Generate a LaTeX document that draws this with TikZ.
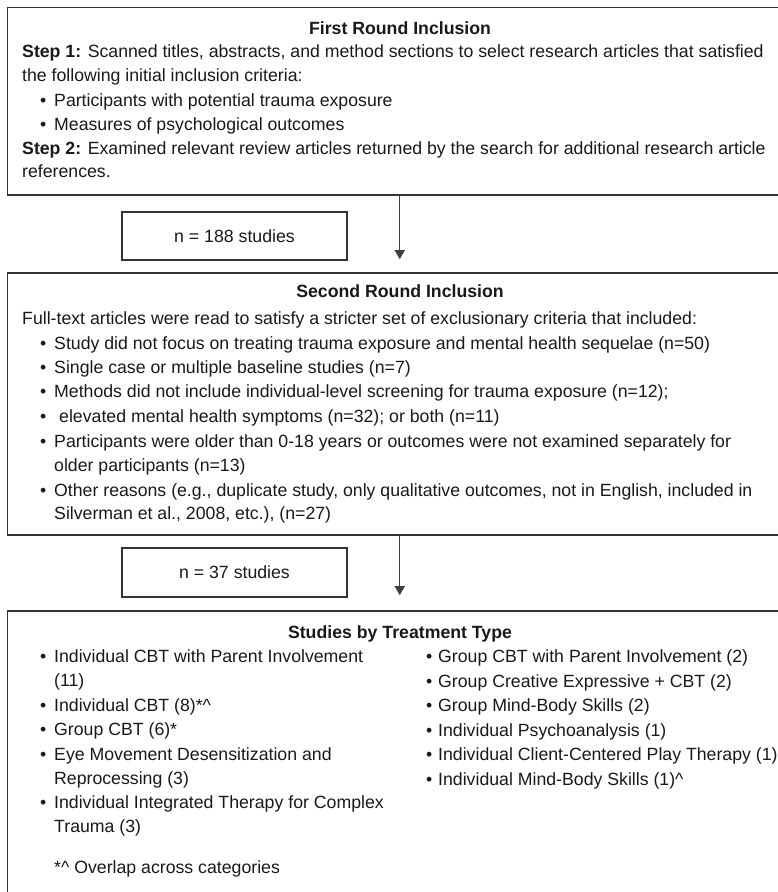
\documentclass[tikz,border=0pt]{standalone}
\usepackage{fontspec}
\setmainfont{Liberation Sans}
\usetikzlibrary{arrows.meta}
\begin{document}
\begin{tikzpicture}[x=1pt,y=-1pt,
  font=\fontsize{17.7}{24}\selectfont,
  box/.style={draw=black!80, line width=1.6pt, inner sep=0pt},
  txt/.style={anchor=mid west, inner sep=0pt, text=black!90},
  ttl/.style={anchor=mid, inner sep=0pt, text=black!90, font=\fontsize{17.7}{24}\selectfont\bfseries},
  bul/.style={anchor=mid west, inner sep=0pt, text=black!90},
  arr/.style={-{Triangle[length=9pt,width=10pt]}, line width=1.3pt, draw=black!75}]
\useasboundingbox (0,0) rectangle (778,892);

% boxes
\node[box, minimum width=784.5pt, minimum height=187.5pt] (b1) at (399.75,101.25) {};
\node[box, minimum width=784.5pt, minimum height=262pt] (b2) at (399.75,404) {};
\node[box, minimum width=784.5pt, minimum height=309pt] (b3) at (399.75,765.5) {};
\node[box, minimum width=225pt, minimum height=48pt, text=black!90] (n1) at (234.5,236) {n = 188 studies};
\node[box, minimum width=225pt, minimum height=49pt, text=black!90] (n2) at (234.5,572.5) {n = 37 studies};

% arrows
\draw[arr, shorten >=13pt] (b1.south) -- (b2.north);
\draw[arr, shorten >=15pt] (b2.south) -- (b3.north);

% box 1 text
\node[ttl] (t1) at (400,32) {First Round Inclusion};
\node[txt] (a1) at (22,55) {\textbf{Step 1:} Scanned titles, abstracts, and method sections to select research articles that satisfied};
\node[txt] (a2) at (22,79) {the following initial inclusion criteria:};
\node[bul] (a3b) at (40,104) {\textbullet};
\node[txt] (a3) at (54,104) {Participants with potential trauma exposure};
\node[bul] (a4b) at (40,128) {\textbullet};
\node[txt] (a4) at (54,128) {Measures of psychological outcomes};
\node[txt] (a5) at (22,152) {\textbf{Step 2:} Examined relevant review articles returned by the search for additional research article};
\node[txt] (a6) at (22,175) {references.};

% box 2 text
\node[ttl] (t2) at (400,295) {Second Round Inclusion};
\node[txt] (c1) at (22,322) {Full-text articles were read to satisfy a stricter set of exclusionary criteria that included:};
\node[bul] (c2b) at (40,347) {\textbullet};
\node[txt] (c2) at (54,347) {Study did not focus on treating trauma exposure and mental health sequelae (n=50)};
\node[bul] (c3b) at (40,371) {\textbullet};
\node[txt] (c3) at (54,371) {Single case or multiple baseline studies (n=7)};
\node[bul] (c4b) at (40,395) {\textbullet};
\node[txt] (c4) at (54,395) {Methods did not include individual-level screening for trauma exposure (n=12);};
\node[bul] (c5b) at (40,420) {\textbullet};
\node[txt] (c5) at (59,420) {elevated mental health symptoms (n=32); or both (n=11)};
\node[bul] (c6b) at (40,445) {\textbullet};
\node[txt] (c6) at (54,445) {Participants were older than 0-18 years or outcomes were not examined separately for};
\node[txt] (c7) at (54,469) {older participants (n=13)};
\node[bul] (c8b) at (40,494) {\textbullet};
\node[txt] (c8) at (54,494) {Other reasons (e.g., duplicate study, only qualitative outcomes, not in English, included in};
\begin{scope}
\clip (0,500) rectangle (800,523.5);
\node[txt] (c9) at (54,517) {Silverman et al., 2008, etc.), (n=27)};
\end{scope}

% box 3 text
\node[ttl] (t3) at (400,636) {Studies by Treatment Type};
\node[bul] (d1b) at (40,660) {\textbullet};
\node[txt] (d1) at (54,660) {Individual CBT with Parent Involvement};
\node[txt] (d2) at (54,684) {(11)};
\node[bul] (d3b) at (40,709) {\textbullet};
\node[txt] (d3) at (54,709) {Individual CBT (8)*\textasciicircum};
\node[bul] (d4b) at (40,733) {\textbullet};
\node[txt] (d4) at (54,733) {Group CBT (6)*};
\node[bul] (d5b) at (40,758) {\textbullet};
\node[txt] (d5) at (54,758) {Eye Movement Desensitization and};
\node[txt] (d6) at (54,782) {Reprocessing (3)};
\node[bul] (d7b) at (40,806) {\textbullet};
\node[txt] (d7) at (54,806) {Individual Integrated Therapy for Complex};
\node[txt] (d8) at (54,830) {Trauma (3)};
\node[txt] (d9) at (54,871) {*\textasciicircum\ Overlap across categories};

\node[bul] (e1b) at (426,660) {\textbullet};
\node[txt] (e1) at (438,660) {Group CBT with Parent Involvement (2)};
\node[bul] (e2b) at (426,685) {\textbullet};
\node[txt] (e2) at (438,685) {Group Creative Expressive + CBT (2)};
\node[bul] (e3b) at (426,709) {\textbullet};
\node[txt] (e3) at (438,709) {Group Mind-Body Skills (2)};
\node[bul] (e4b) at (426,734) {\textbullet};
\node[txt] (e4) at (438,734) {Individual Psychoanalysis (1)};
\node[bul] (e5b) at (426,758) {\textbullet};
\node[txt] (e5) at (438,758) {Individual Client-Centered Play Therapy (1)};
\node[bul] (e6b) at (426,783) {\textbullet};
\node[txt] (e6) at (438,783) {Individual Mind-Body Skills (1)\textasciicircum};
\end{tikzpicture}
\end{document}
